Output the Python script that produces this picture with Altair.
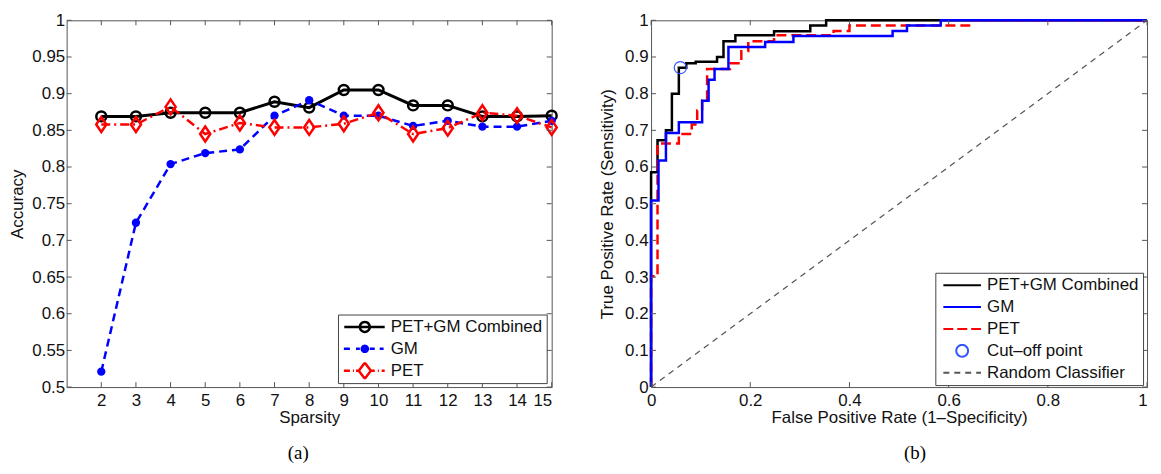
import math
import altair as alt
import pandas as pd

# ---------------- panel (a): accuracy vs sparsity ----------------
sparsity = [2, 3, 4, 5, 6, 7, 8, 9, 10, 11, 12, 13, 14, 15]
acc_combined = [0.869, 0.869, 0.874, 0.874, 0.874, 0.889, 0.881, 0.905, 0.905, 0.884, 0.884, 0.869, 0.869, 0.870]
acc_gm = [0.521, 0.724, 0.804, 0.819, 0.824, 0.870, 0.891, 0.870, 0.870, 0.856, 0.863, 0.855, 0.855, 0.863]
acc_pet = [0.858, 0.858, 0.882, 0.845, 0.860, 0.854, 0.854, 0.859, 0.874, 0.845, 0.853, 0.874, 0.870, 0.854]
series_a = ["PET+GM Combined", "GM", "PET"]
xticks_a = [2, 3, 4, 5, 6, 7, 8, 9, 10, 11, 12, 13, 14, 15]
yticks_a = [0.5, 0.55, 0.6, 0.65, 0.7, 0.75, 0.8, 0.85, 0.9, 0.95, 1.0]

# ---------------- panel (b): ROC curves (step corners) ----------------
fpr_combined = [0, 0, 0.013, 0.030, 0.042, 0.056, 0.071, 0.090, 0.133, 0.146, 0.170, 0.248, 0.321, 0.353, 1.0]
tpr_combined = [0, 0.586, 0.673, 0.700, 0.800, 0.871, 0.883, 0.887, 0.900, 0.943, 0.959, 0.970, 0.986, 1.0, 1.0]
fpr_gm = [0, 0, 0.015, 0.030, 0.056, 0.103, 0.116, 0.128, 0.156, 0.230, 0.287, 0.487, 0.516, 0.584, 1.0]
tpr_gm = [0, 0.509, 0.618, 0.693, 0.722, 0.781, 0.838, 0.867, 0.927, 0.941, 0.957, 0.971, 0.986, 1.0, 1.0]
fpr_pet = [0, 0, 0.013, 0.056, 0.082, 0.093, 0.103, 0.113, 0.159, 0.182, 0.196, 0.248, 0.368, 0.400, 0.645, 1.0]
tpr_pet = [0, 0.302, 0.664, 0.690, 0.716, 0.754, 0.781, 0.867, 0.883, 0.916, 0.943, 0.959, 0.971, 0.986, 1.0, 1.0]
cutoff_fpr = [0.059]
cutoff_tpr = [0.871]
random_fpr = [0.0, 1.0]
random_tpr = [0.0, 1.0]
series_b = ["PET+GM Combined", "GM", "PET", "Cut\u2013off point", "Random Classifier"]
xticks_b = [0, 0.2, 0.4, 0.6, 0.8, 1.0]
yticks_b = [0, 0.1, 0.2, 0.3, 0.4, 0.5, 0.6, 0.7, 0.8, 0.9, 1.0]

# ---------------- styling ----------------
FONT = "Liberation Sans"
TXT = "#111111"
FRAME = "#555555"
W_A, W_B, H = 488, 499, 369
TICK_LEN = 5


def poly_circle(r, n=28):
    pts = [(r * math.cos(2 * math.pi * k / n), r * math.sin(2 * math.pi * k / n)) for k in range(n)]
    return "M" + "L".join(f"{x:.4f},{y:.4f}" for x, y in pts) + "Z"


def hseg(a, b):
    return f"M{a},0L{b},0"


# legend symbols for panel (a): line + marker drawn as one path
sym_comb = hseg(-0.95, 0.92) + poly_circle(0.23)
sym_gm = (hseg(-0.97, -0.69) + hseg(-0.41, -0.23) + hseg(0.23, 0.46) + hseg(0.69, 0.87)
          + poly_circle(0.14) + poly_circle(0.075) + poly_circle(0.025))
sym_pet = (hseg(-0.97, -0.69) + hseg(-0.55, -0.50) + hseg(-0.41, -0.28)
           + "M0,-0.37L0.28,0L0,0.37L-0.28,0Z"
           + hseg(0.28, 0.46) + hseg(0.60, 0.65) + hseg(0.78, 0.92))
diamond_plot = "M0,-1.25L0.85,0L0,1.25L-0.85,0Z"

# legend symbols for panel (b)
sym_line_b = hseg(-0.86, 0.86)
sym_circ_b = poly_circle(0.27)


def frame_ticks(xvals, yvals, xenc, yenc, xname, yname, W, Hh, L=TICK_LEN):
    xt = pd.DataFrame({xname: xvals})
    yt = pd.DataFrame({yname: yvals})
    r = dict(color=FRAME, strokeWidth=1)
    return [
        alt.Chart(xt).mark_rule(**r).encode(x=xenc, y=alt.value(Hh), y2=alt.value(Hh - L)),
        alt.Chart(xt).mark_rule(**r).encode(x=xenc, y=alt.value(0), y2=alt.value(L)),
        alt.Chart(yt).mark_rule(**r).encode(y=yenc, x=alt.value(0), x2=alt.value(L)),
        alt.Chart(yt).mark_rule(**r).encode(y=yenc, x=alt.value(W), x2=alt.value(W - L)),
    ]


# ---------------- panel (a) chart ----------------
xs_a = alt.Scale(domain=[1, 15])
ys_a = alt.Scale(domain=[0.5, 1.0])
x_a = alt.X("sparsity:Q", scale=xs_a,
            axis=alt.Axis(values=xticks_a, format="d", title="Sparsity", labelPadding=6, titlePadding=1))
y_a = alt.Y("accuracy:Q", scale=ys_a,
            axis=alt.Axis(values=yticks_a, format="~g", title="Accuracy", labelPadding=2, titlePadding=5))

df_c = pd.DataFrame({"sparsity": sparsity, "accuracy": acc_combined})
df_g = pd.DataFrame({"sparsity": sparsity, "accuracy": acc_gm})
df_p = pd.DataFrame({"sparsity": sparsity, "accuracy": acc_pet})
df_a = pd.concat([df_c.assign(series_a=series_a[0]), df_g.assign(series_a=series_a[1]),
                  df_p.assign(series_a=series_a[2])], ignore_index=True)

line_c = alt.Chart(df_c).mark_line(color="black", strokeWidth=3).encode(x=x_a, y=y_a)
pts_c = alt.Chart(df_c).mark_point(shape="circle", size=100, filled=False, color="black",
                                   strokeWidth=2.5, opacity=1).encode(x=x_a, y=y_a)
line_g = alt.Chart(df_g).mark_line(color="#0000ff", strokeWidth=2.5, strokeDash=[8, 5]).encode(x=x_a, y=y_a)
pts_g = alt.Chart(df_g).mark_point(shape="circle", size=70, filled=True, color="#0000ff",
                                   opacity=1).encode(x=x_a, y=y_a)
line_p = alt.Chart(df_p).mark_line(color="#ff0000", strokeWidth=2.5, strokeDash=[9, 4, 2, 4]).encode(x=x_a, y=y_a)
pts_p = alt.Chart(df_p).mark_point(shape=diamond_plot, size=144, filled=False, color="#ff0000",
                                   strokeWidth=2.5, opacity=1).encode(x=x_a, y=y_a)

legend_a = alt.Legend(title=None, orient="none", legendX=273, legendY=296, padding=4,
                      strokeColor="#444444", fillColor="white", cornerRadius=0,
                      symbolSize=1892, symbolStrokeWidth=2.5, symbolOpacity=1,
                      symbolFillColor="transparent", clipHeight=17, rowPadding=4,
                      labelOffset=3, labelFont=FONT, labelFontSize=17, labelColor=TXT,
                      labelLimit=400)
# invisible, tiny marks that only carry the legend
leg_a = alt.Chart(df_a).mark_point(opacity=0, filled=False, size=1, clip=True).encode(
    x=x_a, y=y_a,
    color=alt.Color("series_a:N", scale=alt.Scale(domain=series_a, range=["black", "#0000ff", "#ff0000"]),
                    legend=legend_a),
    shape=alt.Shape("series_a:N", scale=alt.Scale(domain=series_a, range=[sym_comb, sym_gm, sym_pet]),
                    legend=legend_a),
)

left = alt.layer(
    line_c, pts_c, line_g, pts_g, line_p, pts_p,
    *frame_ticks(xticks_a, yticks_a, x_a, y_a, "sparsity", "accuracy", W_A, H),
    leg_a,
).properties(
    width=W_A, height=H,
    title=alt.Title("(a)", orient="bottom", font="Liberation Serif", fontSize=19,
                    fontWeight="normal", color="black", offset=18, dx=-11, anchor="middle"),
)

# ---------------- panel (b) chart ----------------
xs_b = alt.Scale(domain=[0, 1])
ys_b = alt.Scale(domain=[0, 1])
x_b = alt.X("fpr:Q", scale=xs_b,
            axis=alt.Axis(values=xticks_b, format="~g", title="False Positive Rate (1\u2013Specificity)",
                          labelPadding=6, titlePadding=1,
                          labelAlign={"condition": {"test": "datum.value >= 1", "value": "right"},
                                      "value": "center"}))
y_b = alt.Y("tpr:Q", scale=ys_b,
            axis=alt.Axis(values=yticks_b, format="~g", title="True Positive Rate (Sensitivity)",
                          labelPadding=3, titlePadding=8))

roc_c = pd.DataFrame({"fpr": fpr_combined, "tpr": tpr_combined, "i": range(len(fpr_combined))})
roc_g = pd.DataFrame({"fpr": fpr_gm, "tpr": tpr_gm, "i": range(len(fpr_gm))})
roc_p = pd.DataFrame({"fpr": fpr_pet, "tpr": tpr_pet, "i": range(len(fpr_pet))})
cut_df = pd.DataFrame({"fpr": cutoff_fpr, "tpr": cutoff_tpr, "i": [0]})
rand_df = pd.DataFrame({"fpr": random_fpr, "tpr": random_tpr, "i": [0, 1]})
df_b = pd.concat([roc_c.assign(series_b=series_b[0]), roc_g.assign(series_b=series_b[1]),
                  roc_p.assign(series_b=series_b[2]), cut_df.assign(series_b=series_b[3]),
                  rand_df.assign(series_b=series_b[4])], ignore_index=True)

order_b = alt.Order("i:Q")
l_c = alt.Chart(roc_c).mark_line(interpolate="step-after", color="black", strokeWidth=2.5).encode(
    x=x_b, y=y_b, order=order_b)
l_p = alt.Chart(roc_p).mark_line(interpolate="step-after", color="#ff0000", strokeWidth=2.5,
                                 strokeDash=[10, 5]).encode(x=x_b, y=y_b, order=order_b)
l_g = alt.Chart(roc_g).mark_line(interpolate="step-after", color="#0000ff", strokeWidth=2.5).encode(
    x=x_b, y=y_b, order=order_b)
l_r = alt.Chart(rand_df).mark_line(color="#555555", strokeWidth=1.2, strokeDash=[6, 5]).encode(
    x=x_b, y=y_b, order=order_b)
p_cut = alt.Chart(cut_df).mark_point(shape="circle", size=150, filled=False, color="#3355ff",
                                     strokeWidth=1.2, opacity=1).encode(x=x_b, y=y_b)

legend_b = alt.Legend(title=None, orient="none", legendX=286, legendY=254, padding=4,
                      strokeColor="#444444", fillColor="white", cornerRadius=0,
                      symbolSize=1936, symbolStrokeWidth=2, symbolOpacity=1,
                      symbolFillColor="transparent", clipHeight=17, rowPadding=4,
                      labelOffset=2, labelFont=FONT, labelFontSize=17, labelColor=TXT,
                      labelLimit=400)
leg_b = alt.Chart(df_b).mark_point(opacity=0, filled=False, size=1, clip=True).encode(
    x=x_b, y=y_b,
    color=alt.Color("series_b:N",
                    scale=alt.Scale(domain=series_b, range=["black", "#0000ff", "#ff0000", "#3355ff", "#555555"]),
                    legend=legend_b),
    shape=alt.Shape("series_b:N",
                    scale=alt.Scale(domain=series_b,
                                    range=[sym_line_b, sym_line_b, sym_line_b, sym_circ_b, sym_line_b]),
                    legend=legend_b),
    strokeDash=alt.StrokeDash("series_b:N",
                              scale=alt.Scale(domain=series_b,
                                              range=[[1, 0], [1, 0], [10, 4], [1, 0], [6, 5]]),
                              legend=legend_b),
)

right = alt.layer(
    l_c, l_p, l_g, l_r, p_cut,
    *frame_ticks(xticks_b, yticks_b, x_b, y_b, "fpr", "tpr", W_B, H),
    leg_b,
).properties(
    width=W_B, height=H,
    title=alt.Title("(b)", orient="bottom", font="Liberation Serif", fontSize=19,
                    fontWeight="normal", color="black", offset=18, dx=16, anchor="middle"),
)

chart = alt.hconcat(left, right, spacing=35).resolve_scale(
    color="independent", shape="independent", strokeDash="independent"
).resolve_legend(
    color="independent", shape="independent", strokeDash="independent"
).properties(
    padding={"left": 0, "top": 1, "right": 0, "bottom": 0},
    background="white",
).configure_axis(
    labelFont=FONT, titleFont=FONT, labelFontSize=17, titleFontSize=17,
    titleFontWeight="normal", labelColor=TXT, titleColor=TXT,
    grid=False, ticks=False, domain=False,
).configure_view(stroke=FRAME, strokeWidth=1)

chart.save("out.html", embed_options={"renderer": "svg", "actions": False})
